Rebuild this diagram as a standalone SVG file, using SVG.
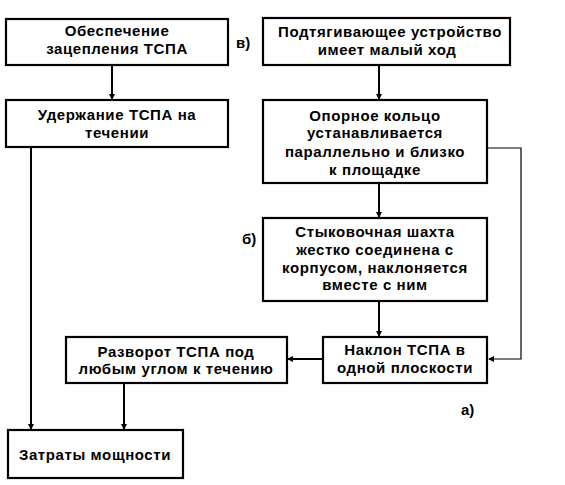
<svg xmlns="http://www.w3.org/2000/svg" width="565" height="485" viewBox="0 0 565 485">
<defs>
<marker id="ah" markerWidth="6" markerHeight="6" refX="5" refY="3" orient="auto" markerUnits="userSpaceOnUse">
<path d="M0,0 L6,3 L0,6 z" fill="#000"/>
</marker>
</defs>
<style>
.box{fill:#fff;stroke:#000;stroke-width:2.2}
.t{font-family:"Liberation Sans",Arial,sans-serif;font-size:15px;font-weight:bold;text-anchor:middle;fill:#000;letter-spacing:0.6px}
.c{fill:none;stroke:#000;stroke-width:2}
.thin{fill:none;stroke:#000;stroke-width:1.2}
.lbl{font-family:"Liberation Sans",Arial,sans-serif;font-size:15px;font-weight:bold;fill:#000}
</style>
<rect width="565" height="485" fill="#fff"/>
<g id="connectors">
<line class="c" x1="112" y1="65" x2="112" y2="99" marker-end="url(#ah)"/>
<line class="c" x1="379" y1="65" x2="379" y2="99" marker-end="url(#ah)"/>
<line class="c" x1="379" y1="183" x2="379" y2="217" marker-end="url(#ah)"/>
<line class="c" x1="379" y1="301" x2="379" y2="336" marker-end="url(#ah)"/>
<polyline class="thin" points="487,148 521,148 521,359 489,359" marker-end="url(#ah)"/>
<line class="c" x1="323" y1="359" x2="288" y2="359" marker-end="url(#ah)"/>
<line class="c" x1="124" y1="383" x2="124" y2="429" marker-end="url(#ah)"/>
<line class="c" x1="31" y1="147" x2="31" y2="429" marker-end="url(#ah)"/>
</g>
<g id="n1">
<rect class="box" x="6" y="19" width="222" height="46"/>
<text class="t" x="117" y="36">Обеспечение</text>
<text class="t" x="117" y="54">зацепления ТСПА</text>
</g>
<g id="n2">
<rect class="box" x="6" y="100" width="222" height="47"/>
<text class="t" x="117" y="120">Удержание ТСПА на</text>
<text class="t" x="117" y="138">течении</text>
</g>
<g id="n3">
<rect class="box" x="263" y="18" width="247" height="47"/>
<text class="t" x="390" y="37">Подтягивающее устройство</text>
<text class="t" x="387" y="55">имеет малый ход</text>
</g>
<g id="n4">
<rect class="box" x="263" y="100" width="224" height="83"/>
<text class="t" x="375" y="121">Опорное кольцо</text>
<text class="t" x="375" y="138">устанавливается</text>
<text class="t" x="375" y="157">параллельно и близко</text>
<text class="t" x="375" y="175">к площадке</text>
</g>
<g id="n5">
<rect class="box" x="263" y="218" width="224" height="83"/>
<text class="t" x="375" y="237">Стыковочная шахта</text>
<text class="t" x="375" y="255">жестко соединена с</text>
<text class="t" x="375" y="273">корпусом, наклоняется</text>
<text class="t" x="375" y="290">вместе с ним</text>
</g>
<g id="n6">
<rect class="box" x="323" y="337" width="164" height="46"/>
<text class="t" x="405" y="355">Наклон ТСПА в</text>
<text class="t" x="405" y="373">одной плоскости</text>
</g>
<g id="n7">
<rect class="box" x="66" y="337" width="221" height="46"/>
<text class="t" x="176" y="357">Разворот ТСПА под</text>
<text class="t" x="176" y="374">любым углом к течению</text>
</g>
<g id="n8">
<rect class="box" x="8" y="430" width="175" height="48"/>
<text class="t" x="95" y="460">Затраты мощности</text>
</g>
<text class="lbl" x="236" y="48">в)</text>
<text class="lbl" x="242" y="244">б)</text>
<text class="lbl" x="461" y="415">а)</text>
</svg>
